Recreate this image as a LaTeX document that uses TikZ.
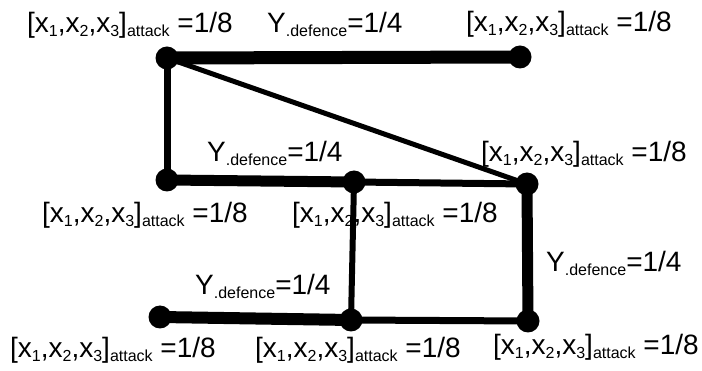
\documentclass[tikz,border=0pt]{standalone}
\usepackage{fontspec}
\setmainfont{Liberation Sans}
\usetikzlibrary{backgrounds}
\newcommand{\sbs}[1]{\raisebox{-4pt}{\fontsize{16}{16}\selectfont #1}}
\newcommand{\att}{[x\sbs{1},x\sbs{2},x\sbs{3}]\sbs{attack} =1/8}
\newcommand{\dfn}{Y\sbs{.defence}=1/4}
\tikzset{
  dot/.style={circle,fill=black,minimum size=23pt,inner sep=0pt},
  lbl/.style={anchor=base west,inner sep=0pt,font=\fontsize{28}{30}\selectfont},
  edge/.style={draw=black,line width=#1}
}
\begin{document}
\begin{tikzpicture}[x=1pt,y=-1pt]
\useasboundingbox (0,0) rectangle (702,371);
\node[dot] (A) at (167,58) {};
\node[dot] (B) at (520,57) {};
\node[dot] (C) at (167,180) {};
\node[dot] (D) at (354,182) {};
\node[dot] (E) at (527,184) {};
\node[dot] (F) at (160,317) {};
\node[dot] (G) at (351,320) {};
\node[dot] (H) at (528,321) {};
\begin{scope}[on background layer]
\draw[edge=13pt] (A.center) -- (B.center);
\draw[edge=7pt] (A.center) -- (C.center);
\draw[edge=5pt] (A.center) -- (E.center);
\draw[edge=11pt] (C.center) -- (D.center);
\draw[edge=7pt] (D.center) -- (E.center);
\draw[edge=6pt] (D.center) -- (G.center);
\draw[edge=11pt] (E.center) -- (H.center);
\draw[edge=12pt] (F.center) -- (G.center);
\draw[edge=7pt] (G.center) -- (H.center);
\end{scope}
\node[lbl] (l1) at (27,33) {\att};
\node[lbl] (l2) at (267,33) {\dfn};
\node[lbl] (l3) at (466,32) {\att};
\node[lbl] (l4) at (207,162) {\dfn};
\node[lbl] (l5) at (481,162) {\att};
\node[lbl] (l6) at (42,223) {\att};
\node[lbl] (l7) at (292,223) {\att};
\node[lbl] (l8) at (546,272) {\dfn};
\node[lbl] (l9) at (195,295) {\dfn};
\node[lbl] (l10) at (10,358) {\att};
\node[lbl] (l11) at (255,358) {\att};
\node[lbl] (l12) at (493,355) {\att};
\end{tikzpicture}
\end{document}
